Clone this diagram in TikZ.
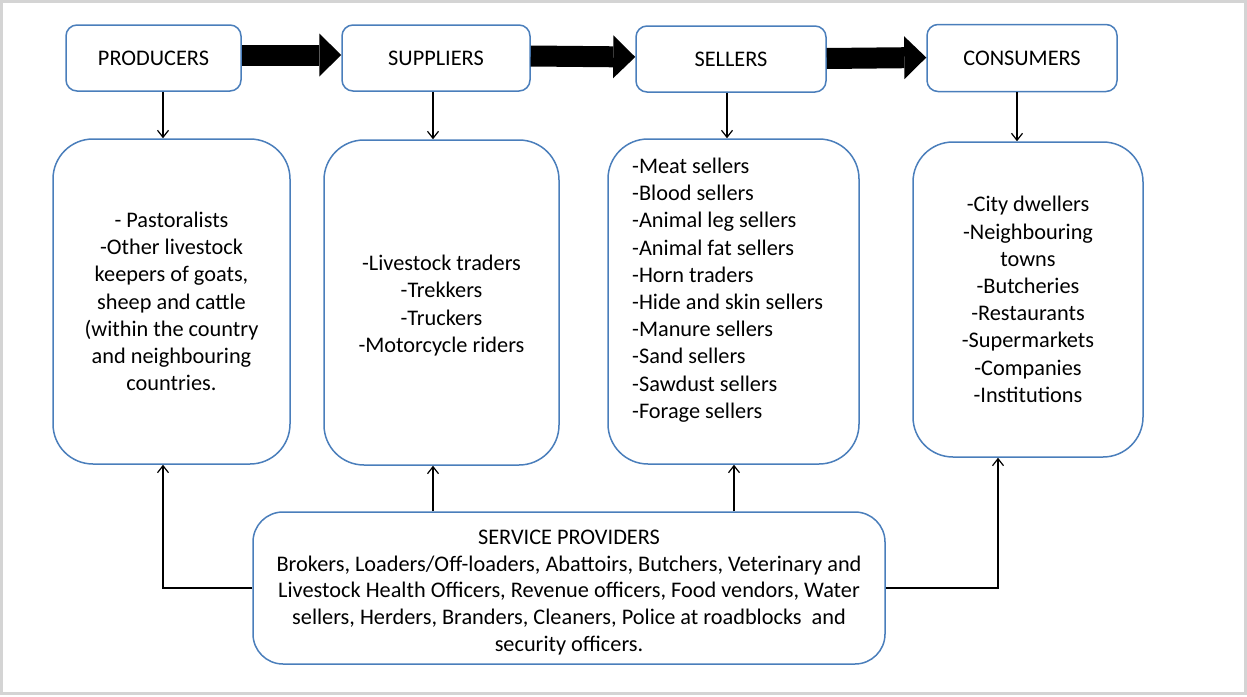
\documentclass[tikz,border=0pt]{standalone}
\usepackage{fontspec}
\setmainfont{Carlito}
\usetikzlibrary{arrows.meta}
\definecolor{boxblue}{HTML}{4A7EBB}
\definecolor{framegray}{HTML}{D4D4D4}
\begin{document}
\begin{tikzpicture}[x=1pt,y=-1pt,
  txt/.style={font=\fontsize{22.3}{27.2}\selectfont},
  stage/.style={draw=boxblue,line width=1.5pt,rounded corners=11pt,fill=white,
    inner sep=0pt,txt},
  listbox/.style={draw=boxblue,line width=1.5pt,rounded corners=40pt,
    inner sep=0pt,align=center,txt},
  members/.style={txt,inner sep=0pt},
  flow/.style={line width=21pt,-{Triangle[length=22pt,width=43pt,line width=0pt]}},
  conn/.style={line width=1.2pt,-{Straight Barb[length=7pt,width=11pt]}}]

\useasboundingbox (0,0) rectangle (1247,696);
\draw[framegray,line width=3pt] (1.5,1.5) rectangle (1245.5,693.5);

% stages of the chain
\node[stage,minimum width=175pt,minimum height=66pt] (prod) at (153.5,58) {PRODUCERS};
\node[stage,minimum width=188pt,minimum height=66pt] (supp) at (436,58) {SUPPLIERS};
\node[stage,minimum width=190pt,minimum height=66pt] (sell) at (731,59) {SELLERS};
\node[stage,minimum width=190pt,minimum height=67pt] (cons) at (1022,58) {CONSUMERS};

% who belongs to each stage
\node[listbox,minimum width=237pt,minimum height=325pt] (prodlist) at (171.5,301.5)
  {- Pastoralists\\-Other livestock\\keepers of goats,\\sheep and cattle\\(within the country\\and neighbouring\\countries.};
\node[listbox,minimum width=235pt,minimum height=325pt] (supplist) at (441.5,302.5) {};
\node[members,align=center] (supptext) at (441.5,305.5)
  {-Livestock traders\\-Trekkers\\-Truckers\\-Motorcycle riders};
\node[listbox,minimum width=251pt,minimum height=325pt] (selllist) at (733.5,301.5) {};
\node[members,align=left,anchor=west] (selltext) at (632,290)
  {-Meat sellers\\-Blood sellers\\-Animal leg sellers\\-Animal fat sellers\\-Horn traders\\-Hide and skin sellers\\-Manure sellers\\-Sand sellers\\-Sawdust sellers\\-Forage sellers};
\node[listbox,minimum width=230pt,minimum height=315pt] (conslist) at (1028,299.5)
  {-City dwellers\\-Neighbouring\\towns\\-Butcheries\\-Restaurants\\-Supermarkets\\-Companies\\-Institutions};

% service providers
\node[listbox,rounded corners=30pt,minimum width=632pt,minimum height=152pt] (serv) at (569,588) {};
\node[members,align=center,font=\fontsize{22.3}{26.8}\selectfont] (servtext) at (569,592.5)
  {SERVICE PROVIDERS\\Brokers, Loaders/Off-loaders, Abattoirs, Butchers, Veterinary and\\Livestock Health Officers, Revenue officers, Food vendors, Water\\sellers, Herders, Branders, Cleaners, Police at roadblocks~ and\\security officers.};

% main flow
\draw[flow] ([yshift=3pt]prod.east) -- ([yshift=3pt]supp.west);
\draw[flow] ([yshift=2pt]supp.east) -- ([yshift=2pt]sell.west);
\draw[flow] ([yshift=0.5pt]sell.east) -- ([yshift=0.5pt]cons.west);

% stage to members
\draw[conn] ([xshift=9.5pt]prod.south) -- ([xshift=-8.5pt]prodlist.north);
\draw[conn] ([xshift=-3pt]supp.south) -- ([xshift=-8.5pt]supplist.north);
\draw[conn] ([xshift=-4pt]sell.south) -- ([xshift=-6.5pt]selllist.north);
\draw[conn] ([xshift=-5pt]cons.south) -- ([xshift=-11pt]conslist.north);

% service providers support every stage
\draw[conn] (serv.west) -| ([xshift=-8.5pt]prodlist.south);
\draw[conn] ([xshift=-136pt]serv.north) -- ([xshift=-8.5pt]supplist.south);
\draw[conn] ([xshift=165pt]serv.north) -- ([xshift=0.5pt]selllist.south);
\draw[conn] (serv.east) -| ([xshift=-30pt]conslist.south);
\end{tikzpicture}
\end{document}
